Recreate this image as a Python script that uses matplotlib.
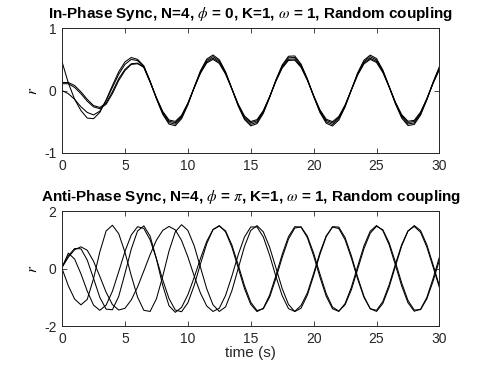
import numpy as np
import matplotlib
matplotlib.use("Agg")
import matplotlib.pyplot as plt

plt.rcParams["font.family"] = ["Liberation Sans", "DejaVu Sans"]
plt.rcParams["mathtext.fontset"] = "stix"
plt.rcParams["axes.unicode_minus"] = False

# sample times (s), every 0.5 s
t = np.arange(0, 30.01, 0.5)

# in-phase sync, r of the four oscillators
r_in_a = [0.46, 0.12, -0.14, -0.32, -0.44, -0.45, -0.35, -0.15, 0.08, 0.30, 0.46, 0.53, 0.50,
          0.397, 0.152, -0.129, -0.380, -0.537, -0.563, -0.451, -0.229, 0.050, 0.316, 0.505, 0.570,
          0.495, 0.300, 0.031, -0.246, -0.462, -0.565, -0.530, -0.365, -0.111, 0.171, 0.410, 0.550,
          0.555, 0.424, 0.189, -0.092, -0.351, -0.523, -0.568, -0.473, -0.263, 0.012, 0.284, 0.486,
          0.569, 0.513, 0.331, 0.068, -0.211, -0.439, -0.560, -0.543, -0.393, -0.148, 0.135, 0.384]
r_in_b = [0.13, 0.13, 0.08, -0.02, -0.14, -0.24, -0.27, -0.20, -0.02, 0.19, 0.34, 0.43, 0.44,
          0.37, 0.134, -0.114, -0.333, -0.471, -0.494, -0.396, -0.201, 0.044, 0.277, 0.443, 0.500,
          0.435, 0.263, 0.027, -0.216, -0.406, -0.496, -0.465, -0.321, -0.097, 0.150, 0.360, 0.483,
          0.487, 0.372, 0.166, -0.081, -0.308, -0.459, -0.498, -0.415, -0.231, 0.011, 0.249, 0.427,
          0.500, 0.450, 0.291, 0.060, -0.185, -0.385, -0.491, -0.477, -0.345, -0.130, 0.118, 0.337]
r_in_c = [0.11, 0.11, 0.05, -0.05, -0.17, -0.26, -0.29, -0.22, -0.05, 0.16, 0.32, 0.42, 0.43,
          0.38, 0.139, -0.118, -0.346, -0.490, -0.514, -0.411, -0.209, 0.045, 0.288, 0.461, 0.520,
          0.452, 0.274, 0.028, -0.224, -0.422, -0.516, -0.484, -0.333, -0.101, 0.156, 0.374, 0.502,
          0.506, 0.386, 0.172, -0.084, -0.320, -0.477, -0.518, -0.432, -0.240, 0.011, 0.259, 0.444,
          0.519, 0.468, 0.302, 0.062, -0.192, -0.400, -0.511, -0.496, -0.359, -0.135, 0.123, 0.350]
r_in_d = [0.00, -0.05, -0.14, -0.26, -0.35, -0.39, -0.33, -0.16, 0.05, 0.26, 0.42, 0.50, 0.48,
          0.380, 0.146, -0.124, -0.363, -0.513, -0.538, -0.431, -0.219, 0.047, 0.302, 0.483, 0.545,
          0.474, 0.287, 0.029, -0.235, -0.442, -0.541, -0.507, -0.349, -0.106, 0.164, 0.392, 0.526,
          0.530, 0.405, 0.180, -0.088, -0.335, -0.500, -0.543, -0.452, -0.251, 0.011, 0.271, 0.465,
          0.544, 0.491, 0.317, 0.065, -0.202, -0.420, -0.535, -0.519, -0.376, -0.141, 0.129, 0.367]

# anti-phase sync, r of the four oscillators
r_anti_p = [0.00, -0.60, -1.06, -1.26, -1.07, -0.35, 0.58, 1.31, 1.51, 1.22, 0.57, -0.24, -0.99,
            -1.45, -1.49, -1.05, -0.27, 0.61, 1.28, 1.53, 1.33, 0.80, 0.05, -0.70, -1.26, -1.49,
            -1.33, -0.77, 0.00, 0.77, 1.33,
            1.498, 1.279, 0.747, 0.032, -0.692, -1.245, -1.494, -1.377, -0.922, -0.243, 0.495,
            1.114, 1.460, 1.447, 1.080, 0.449, -0.293, -0.963, -1.395, -1.488, -1.215, -0.648,
            0.081, 0.791, 1.305, 1.500, 1.328, 0.833, 0.131, -0.603]
r_anti_q = [0.05, 0.54, 0.33, -0.18, -0.78, -1.27, -1.45, -1.27, -0.79, -0.11, 0.60, 1.17, 1.46,
            1.40, 1.00, 0.35, -0.39, -1.04, -1.44, -1.50, -1.19, -0.59, 0.16, 0.87, 1.36,
            1.498, 1.279, 0.747, 0.032, -0.692, -1.245, -1.494, -1.377, -0.922, -0.243, 0.495,
            1.114, 1.460, 1.447, 1.080, 0.449, -0.293, -0.963, -1.395, -1.488, -1.215, -0.648,
            0.081, 0.791, 1.305, 1.500, 1.328, 0.833, 0.131, -0.603, -1.188, -1.482, -1.413,
            -1.002, -0.339, 0.401]
r_anti_r = [0.05, 0.45, 0.70, 0.69, 0.30, -0.34, -1.00, -1.41, -1.43, -0.97, -0.17, 0.68, 1.31,
            1.49, 1.13, 0.34, -0.58, -1.29, -1.52, -1.35, -0.91, -0.31, 0.35, 0.95, 1.36,
            1.480, 1.313, 0.824, 0.135, -0.589, -1.168, -1.461, -1.397, -0.993, -0.340, 0.391,
            1.029, 1.412, 1.452, 1.135, 0.540, -0.186, -0.869, -1.336, -1.477, -1.258, -0.736,
            -0.022, 0.693, 1.233, 1.474, 1.354, 0.903, 0.231, -0.499, -1.106, -1.442, -1.427,
            -1.054, -0.434, 0.295]
r_anti_s = [0.05, 0.40, 0.66, 0.76, 0.64, 0.26, -0.27, -0.82, -1.25, -1.44, -1.38, -1.09, -0.64,
            -0.08, 0.49, 0.99, 1.33, 1.47, 1.35, 0.98, 0.41, -0.25, -0.85, -1.30, -1.49, -1.38,
            -0.93, -0.26, 0.48, 1.10, 1.45,
            1.45, 1.10, 0.47, -0.27, -0.94, -1.39, -1.49, -1.28,
            -0.845, -0.165, 0.556, 1.141, 1.445, 1.397, 1.005, 0.369, -0.359, -0.998, -1.395,
            -1.452, -1.145, -0.566, 0.153, 0.836, 1.313, 1.469, 1.266, 0.753, 0.054, -0.657]

titles = [r"In-Phase Sync, N=4, $\phi$ = 0, K=1, $\omega$ = 1, Random coupling",
          r"Anti-Phase Sync, N=4, $\phi$ = $\pi$, K=1, $\omega$ = 1, Random coupling"]
x_ticks = [0, 5, 10, 15, 20, 25, 30]

fig = plt.figure(figsize=(4.85, 3.66), dpi=100)
ax1 = fig.add_axes([0.128, 0.582, 0.778, 0.341])
ax2 = fig.add_axes([0.128, 0.109, 0.778, 0.314])

for r in (r_in_a, r_in_b, r_in_c, r_in_d):
    ax1.plot(t, r, color="black", lw=0.75, solid_joinstyle="round")
for r in (r_anti_p, r_anti_q, r_anti_r, r_anti_s):
    ax2.plot(t, r, color="black", lw=0.75, solid_joinstyle="round")

ax1.set_ylim(-1, 1)
ax1.set_yticks([-1, 0, 1])
ax2.set_ylim(-2, 2)
ax2.set_yticks([-2, 0, 2])
ax2.set_xlabel("time (s)", fontsize=11, color="0.15", labelpad=0)

for ax, title in zip((ax1, ax2), titles):
    ax.set_xlim(0, 30)
    ax.set_xticks(x_ticks)
    ax.set_title(title, fontsize=11, fontweight="bold", pad=7.5)
    ax.set_ylabel("$r$", fontsize=11, labelpad=3)
    ax.tick_params(direction="in", top=True, right=True, length=3.5, width=0.6,
                   labelsize=10, colors="0.15", pad=4)
    for s in ax.spines.values():
        s.set_color("0.15")
        s.set_linewidth(0.7)

fig.savefig("out.png", dpi=100)
